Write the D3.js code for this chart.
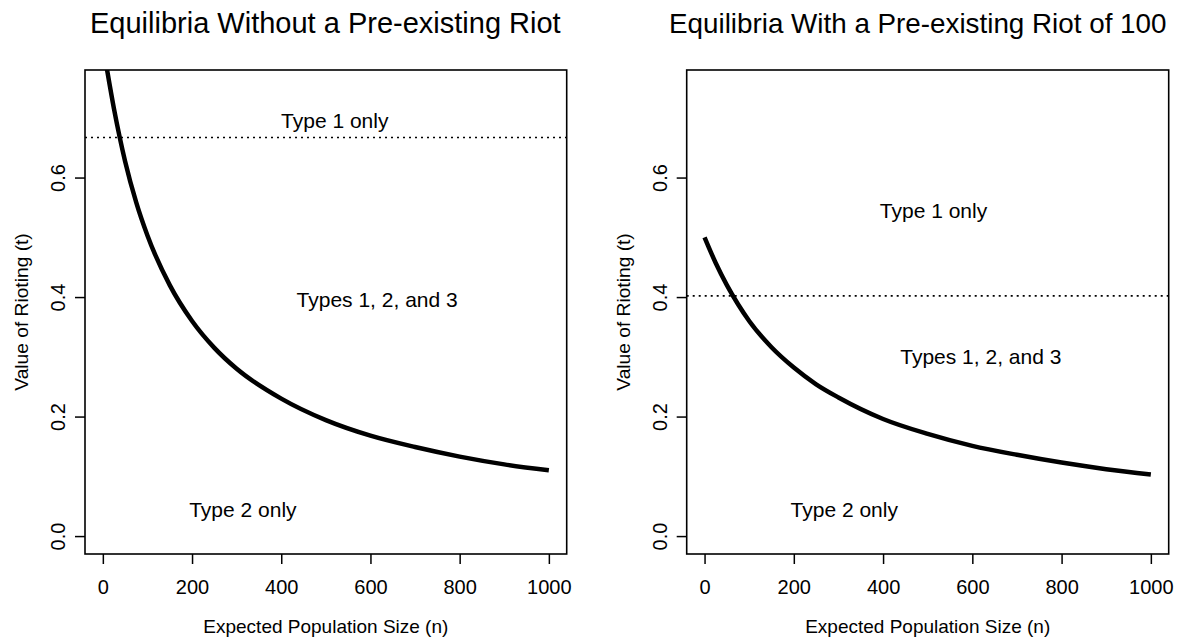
<!DOCTYPE html>
<html>
<head>
<meta charset="utf-8">
<script src="https://cdn.jsdelivr.net/npm/d3@7"></script>
<style>
  body { margin: 0; background: #fff; }
  text { font-family: "Liberation Sans", Arial, sans-serif; fill: #000; }
</style>
</head>
<body>
<div id="chart"></div>
<script>
var W = 1199, H = 643;

// values
var nLeft   = [5, 25, 50, 75, 100, 150, 200, 250, 300, 400, 500, 600, 700, 800, 900, 1000];
var tLeft   = [0.80, 0.715, 0.627, 0.558, 0.503, 0.42, 0.36, 0.315, 0.28, 0.23, 0.194, 0.168, 0.149, 0.133, 0.12, 0.11];
var nRight  = [0, 25, 50, 75, 100, 150, 200, 250, 300, 400, 500, 600, 700, 800, 900, 1000];
var tRight  = [0.50, 0.457, 0.42, 0.388, 0.36, 0.316, 0.282, 0.254, 0.232, 0.196, 0.171, 0.151, 0.136, 0.123, 0.112, 0.103];
var cutLeft = 0.667, cutRight = 0.402;
var xTicks = [0, 200, 400, 600, 800, 1000];
var yTicks = [0.0, 0.2, 0.4, 0.6];
var titles = ["Equilibria Without a Pre-existing Riot", "Equilibria With a Pre-existing Riot of 100"];
var regionLabels = ["Type 1 only", "Types 1, 2, and 3", "Type 2 only"];
var labelPosLeft  = [[520, 0.695], [615, 0.395], [314, 0.045]];
var labelPosRight = [[513, 0.544], [619, 0.30], [313, 0.045]];

var svg = d3.select("#chart").append("svg")
  .attr("width", W)
  .attr("height", H);

var panels = [
  { left: 85, right: 566.7, n: nLeft, t: tLeft, cut: cutLeft, labels: labelPosLeft,
    title: titles[0], titleX: 90, tsize: 29 },
  { left: 686.7, right: 1168.7, n: nRight, t: tRight, cut: cutRight, labels: labelPosRight,
    title: titles[1], titleX: 669, tsize: 27.8 }
];
var plotTop = 70, plotBottom = 554;

panels.forEach(function(p, i) {
  var x = d3.scaleLinear().domain([-40, 1040]).range([p.left, p.right]);
  var y = d3.scaleLinear().domain([-0.03, 0.78]).range([plotBottom, plotTop]);
  var g = svg.append("g");

  // clip to plot region, like R does
  g.append("clipPath").attr("id", "clip" + i)
    .append("rect")
    .attr("x", p.left).attr("y", plotTop)
    .attr("width", p.right - p.left).attr("height", plotBottom - plotTop);

  // title
  g.append("text")
    .attr("x", p.titleX)
    .attr("y", 32.5)
    .style("font-size", p.tsize + "px")
    .text(p.title);

  // x axis
  var xa = g.append("g")
    .attr("transform", "translate(0," + plotBottom + ")")
    .call(d3.axisBottom(x).tickValues(xTicks).tickSize(10).tickFormat(d3.format("d")));
  xa.select(".domain").remove();
  xa.selectAll("line").attr("stroke-width", 1.5);
  xa.selectAll("text").style("font-size", "20px").attr("dy", null).attr("y", 40);

  // y axis (rotated labels)
  var ya = g.append("g")
    .attr("transform", "translate(" + p.left + ",0)")
    .call(d3.axisLeft(y).tickValues(yTicks).tickSize(10).tickFormat(d3.format(".1f")));
  ya.select(".domain").remove();
  ya.selectAll("line").attr("stroke-width", 1.5);
  ya.selectAll("text")
    .style("font-size", "20px")
    .attr("x", null).attr("dy", null)
    .attr("text-anchor", "middle")
    .attr("transform", "translate(-20,0) rotate(-90)");

  // axis titles
  g.append("text")
    .attr("x", x(500))
    .attr("y", 633)
    .attr("text-anchor", "middle")
    .style("font-size", "19px")
    .text("Expected Population Size (n)");

  g.append("text")
    .attr("transform", "translate(" + (p.left - 57) + "," + ((plotTop + plotBottom) / 2) + ") rotate(-90)")
    .attr("text-anchor", "middle")
    .style("font-size", "19.2px")
    .text("Value of Rioting (t)");

  // dotted threshold
  g.append("line")
    .attr("x1", p.left).attr("x2", p.right)
    .attr("y1", y(p.cut)).attr("y2", y(p.cut))
    .attr("stroke", "#000")
    .attr("stroke-width", 1.6)
    .attr("stroke-dasharray", "2,4");

  // equilibrium curve
  var pts = p.n.map(function(d, k) { return [d, p.t[k]]; });
  g.append("path")
    .datum(pts)
    .attr("clip-path", "url(#clip" + i + ")")
    .attr("fill", "none")
    .attr("stroke", "#000")
    .attr("stroke-width", 4.5)
    .attr("d", d3.line()
      .x(function(d) { return x(d[0]); })
      .y(function(d) { return y(d[1]); })
      .curve(d3.curveMonotoneX));

  // region labels
  g.selectAll(".lab")
    .data(p.labels)
    .enter().append("text")
    .attr("x", function(d) { return x(d[0]); })
    .attr("y", function(d) { return y(d[1]); })
    .attr("dy", "0.35em")
    .attr("text-anchor", "middle")
    .style("font-size", "21px")
    .text(function(d, k) { return regionLabels[k]; });

  // box
  g.append("rect")
    .attr("x", p.left).attr("y", plotTop)
    .attr("width", p.right - p.left).attr("height", plotBottom - plotTop)
    .attr("fill", "none")
    .attr("stroke", "#000")
    .attr("stroke-width", 1.6);
});
</script>
</body>
</html>
